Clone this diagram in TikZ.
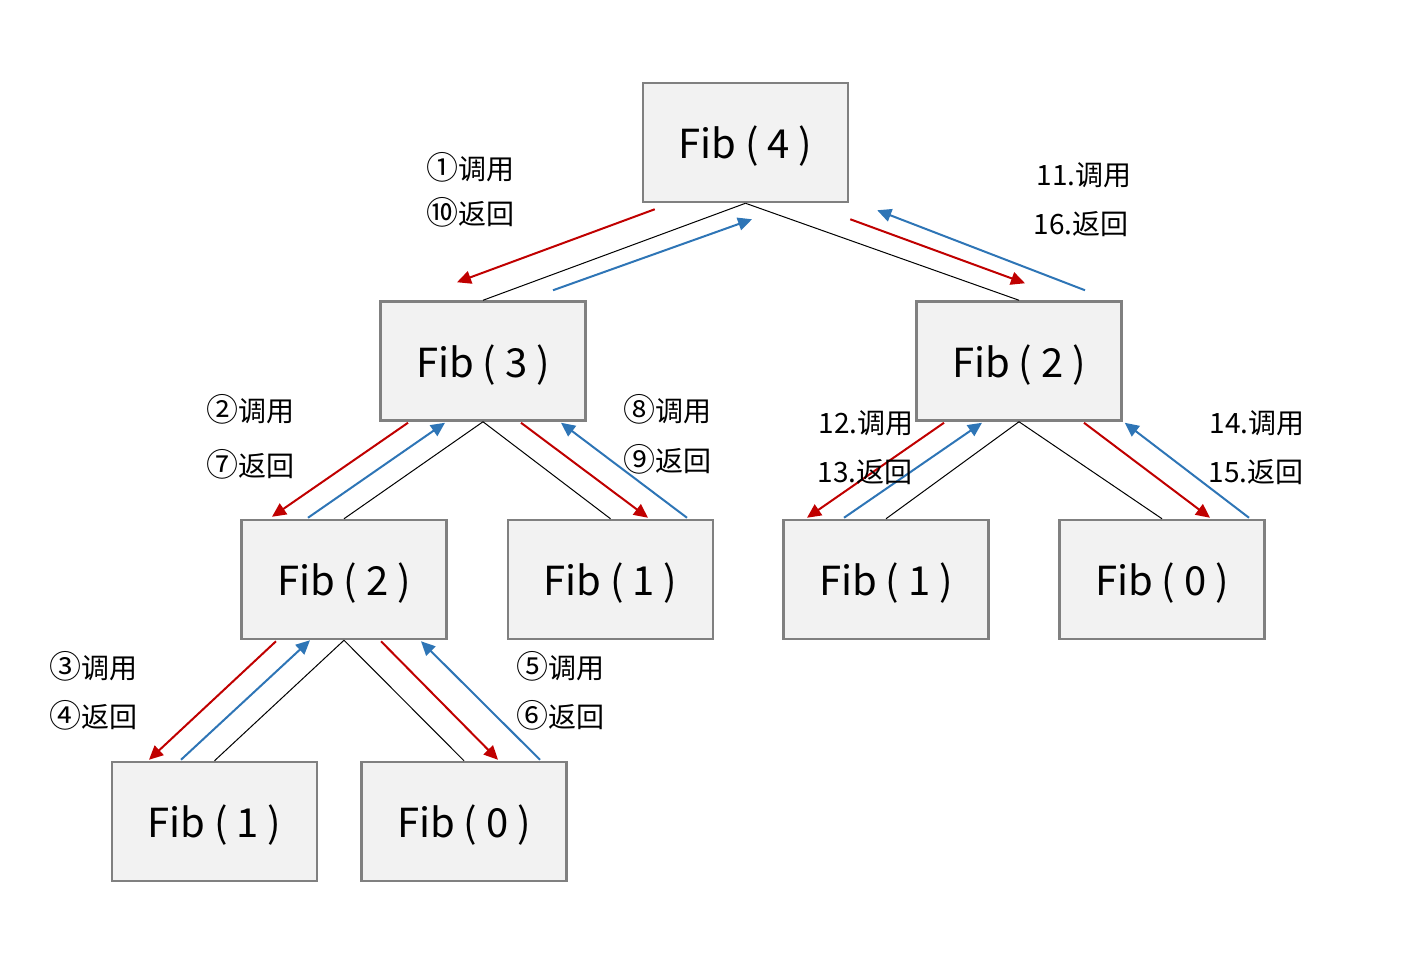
\documentclass[tikz,border=0pt]{standalone}
\usepackage{fontspec}
\setmainfont{Noto Sans CJK SC}
\usetikzlibrary{arrows.meta,calc}
\definecolor{callred}{HTML}{C00000}
\definecolor{retblue}{HTML}{2E75B6}
\definecolor{boxfill}{HTML}{F2F2F2}
\definecolor{boxline}{HTML}{808080}
\newcommand{\circnum}[1]{{\fontsize{16}{16}\selectfont #1}}
\newcommand{\fibtxt}[1]{\raisebox{-8pt}[0pt][0pt]{#1}}
\begin{document}
\begin{tikzpicture}[x=0.5pt,y=-0.5pt,
  fibbox/.style={draw=boxline,fill=boxfill,line width=1.25pt,minimum width=102.5pt,minimum height=59.5pt,inner sep=0pt,font=\fontsize{20}{24}\selectfont},
  tree/.style={black,line width=0.5pt},
  callarrow/.style={callred,line width=1pt,-{Triangle[length=7pt,width=6.5pt]}},
  retarrow/.style={retblue,line width=1pt,-{Triangle[length=7pt,width=6.5pt]}},
  lbl/.style={inner sep=0pt,font=\fontsize{14}{16}\selectfont}]
\useasboundingbox (0,0) rectangle (1408,976);
\node[fibbox] (f4) at (745.5,142.5) {\fibtxt{Fib ( 4 )}};
\node[fibbox] (f3) at (483,361) {\fibtxt{Fib ( 3 )}};
\node[fibbox] (f2r) at (1019,361) {\fibtxt{Fib ( 2 )}};
\node[fibbox] (f2l) at (344,579.5) {\fibtxt{Fib ( 2 )}};
\node[fibbox] (f1m) at (610.5,579.5) {\fibtxt{Fib ( 1 )}};
\node[fibbox] (f1r) at (886,579.5) {\fibtxt{Fib ( 1 )}};
\node[fibbox] (f0r) at (1162,579.5) {\fibtxt{Fib ( 0 )}};
\node[fibbox] (f1b) at (214.5,821.5) {\fibtxt{Fib ( 1 )}};
\node[fibbox] (f0b) at (464,821.5) {\fibtxt{Fib ( 0 )}};
% tree lines
\draw[tree] (f4.south) -- (f3.north);
\draw[tree] (f4.south) -- (f2r.north);
\draw[tree] (f3.south) -- (f2l.north);
\draw[tree] (f3.south) -- (f1m.north);
\draw[tree] (f2r.south) -- (f1r.north);
\draw[tree] (f2r.south) -- (f0r.north);
\draw[tree] (f2l.south) -- (f1b.north);
\draw[tree] (f2l.south) -- (f0b.north);
% call / return arrows
\draw[callarrow] ($(f4.south west)+(13,6)$) -- ($(f3.north)+(-26,-18)$);
\draw[retarrow] ($(f3.north)+(70,-10)$) -- ($(f4.south)+(6.5,16)$);
\draw[callarrow] ($(f4.south east)+(1,16)$) -- ($(f2r.north)+(6,-17)$);
\draw[retarrow] ($(f2r.north)+(66,-10)$) -- ($(f4.south east)+(28,7)$);
\draw[callarrow] ($(f3.south)+(-75,1)$) -- ($(f2l.north)+(-72,-2)$);
\draw[retarrow] ($(f2l.north)+(-36,-1)$) -- ($(f3.south)+(-38,1)$);
\draw[callarrow] ($(f3.south)+(38,1)$) -- ($(f1m.north)+(37.5,-1)$);
\draw[retarrow] ($(f1m.north)+(76.5,-1)$) -- ($(f3.south)+(78,1)$);
\draw[callarrow] ($(f2r.south)+(-75,1)$) -- ($(f1r.north)+(-79,-1)$);
\draw[retarrow] ($(f1r.north)+(-42,-1)$) -- ($(f2r.south)+(-37,1)$);
\draw[callarrow] ($(f2r.south)+(65,1)$) -- ($(f0r.north)+(48,-1)$);
\draw[retarrow] ($(f0r.north)+(87,-1)$) -- ($(f2r.south east)+(2,1)$);
\draw[callarrow] ($(f2l.south)+(-68,1)$) -- ($(f1b.north)+(-65.5,-1)$);
\draw[retarrow] ($(f1b.north)+(-33.5,-1)$) -- ($(f2l.south)+(-34,0)$);
\draw[callarrow] ($(f2l.south)+(37,1)$) -- ($(f0b.north)+(34,-1)$);
\draw[retarrow] ($(f0b.north)+(76,-1)$) -- ($(f2l.south)+(77,1)$);
% labels
\node[lbl] (l1) at (470,167) {\circnum{①}调用};
\node[lbl] (l10) at (470,212) {\circnum{⑩}返回};
\node[lbl] (l11) at (1084,175) {11.调用};
\node[lbl] (l16) at (1081,224) {16.返回};
\node[lbl] (l2) at (250,409) {\circnum{②}调用};
\node[lbl] (l7) at (250,464) {\circnum{⑦}返回};
\node[lbl] (l8) at (667,409) {\circnum{⑧}调用};
\node[lbl] (l9) at (667,459) {\circnum{⑨}返回};
\node[lbl] (l12) at (866,423) {12.调用};
\node[lbl] (l13) at (865,472) {13.返回};
\node[lbl] (l14) at (1257,423) {14.调用};
\node[lbl] (l15) at (1256,472) {15.返回};
\node[lbl] (l3) at (93,666) {\circnum{③}调用};
\node[lbl] (l4) at (93,715) {\circnum{④}返回};
\node[lbl] (l5) at (560,666) {\circnum{⑤}调用};
\node[lbl] (l6) at (560,715) {\circnum{⑥}返回};
\end{tikzpicture}
\end{document}
